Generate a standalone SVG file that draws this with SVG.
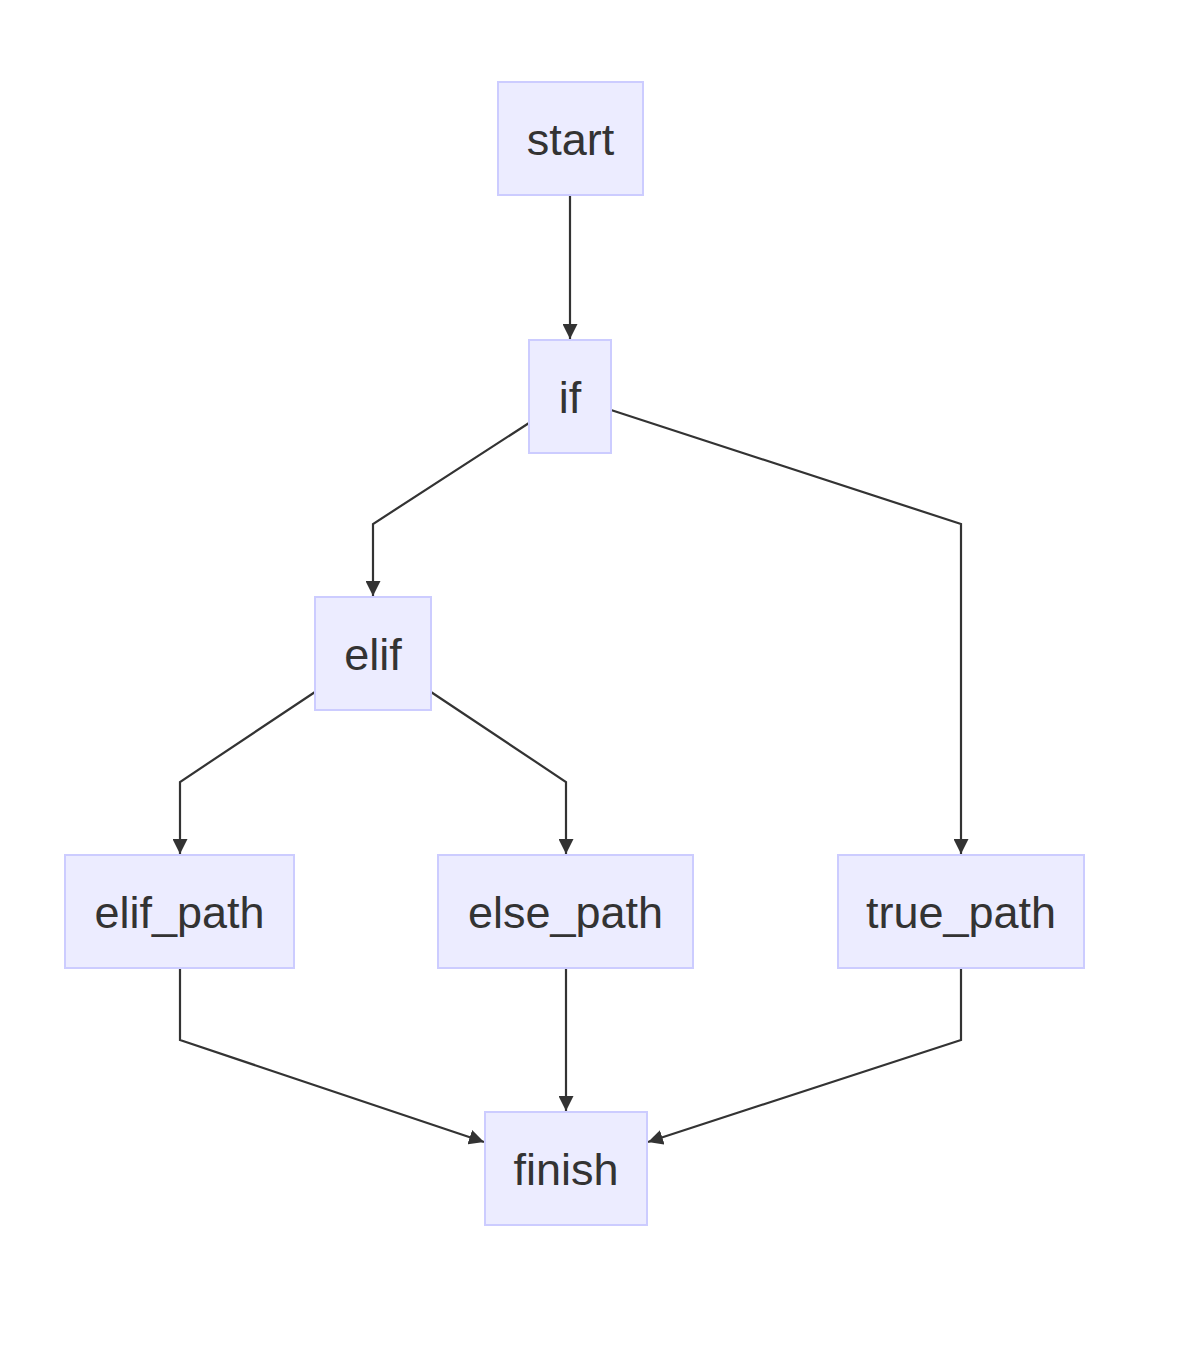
<svg xmlns="http://www.w3.org/2000/svg" width="1200" height="1366" viewBox="0 0 1200 1366">
<style>
.node rect{fill:#ECECFF;stroke:#CCCCFF;stroke-width:2}
.node text{font-family:"Liberation Sans",Arial,sans-serif;font-size:45px;fill:#333333;text-anchor:middle;dominant-baseline:central}
.edges path{fill:none;stroke:#333333;stroke-width:2.2;marker-end:url(#arr)}
</style>
<defs>
<marker id="arr" viewBox="0 0 14 14" refX="14" refY="7" markerWidth="15" markerHeight="15" markerUnits="userSpaceOnUse" orient="auto">
<path d="M0,0 L14,7 L0,14 z" fill="#333333"/>
</marker>
</defs>
<rect width="1200" height="1366" fill="#ffffff"/>
<g class="edges">
<path d="M570,196 L570,339"/>
<path d="M529,423 L373,524 L373,596"/>
<path d="M611,410 L961,524 L961,854"/>
<path d="M315,692 L180,782 L180,854"/>
<path d="M431,692 L566,782 L566,854"/>
<path d="M180,969 L180,1040 L484,1142"/>
<path d="M566,969 L566,1111"/>
<path d="M961,969 L961,1040 L648,1142"/>
</g>
<g id="start" class="node"><rect x="498" y="82" width="145" height="113"/><text x="570.5" y="139">start</text></g>
<g id="if" class="node"><rect x="529" y="340" width="82" height="113"/><text x="570" y="397">if</text></g>
<g id="elif" class="node"><rect x="315" y="597" width="116" height="113"/><text x="373" y="654">elif</text></g>
<g id="elif_path" class="node"><rect x="65" y="855" width="229" height="113"/><text x="179.5" y="912">elif_path</text></g>
<g id="else_path" class="node"><rect x="438" y="855" width="255" height="113"/><text x="565.5" y="912">else_path</text></g>
<g id="true_path" class="node"><rect x="838" y="855" width="246" height="113"/><text x="961" y="912">true_path</text></g>
<g id="finish" class="node"><rect x="485" y="1112" width="162" height="113"/><text x="566" y="1169">finish</text></g>
</svg>
